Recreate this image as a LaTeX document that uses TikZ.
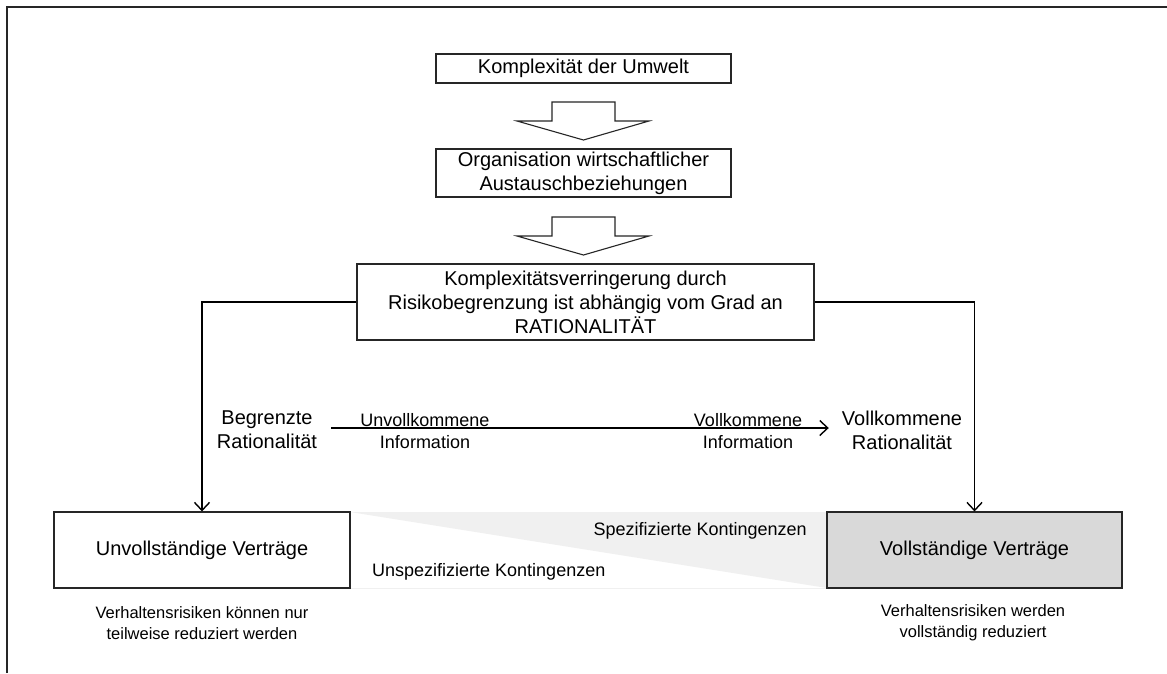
\documentclass[tikz,border=0pt]{standalone}
\usepackage{fontspec}
\setmainfont{Liberation Sans}
\usetikzlibrary{arrows.meta,shadows}
\begin{document}
\begin{tikzpicture}[x=1pt,y=-1pt,
  box/.style={draw=black!85, line width=1.1pt, fill=white, align=center, inner sep=0pt,
    font=\fontsize{20}{24}\selectfont,
    drop shadow={shadow xshift=1.3pt, shadow yshift=-1.3pt, fill=black!55, opacity=1}},
  blockarrow/.style={draw=black!85, line width=1.1pt, fill=white, line join=miter},
  conn/.style={draw=black, line width=1.4pt, -{Straight Barb[length=8pt,width=15pt,line width=1.4pt]}},
  midlabel/.style={align=center, inner sep=0pt, font=\fontsize{20}{24}\selectfont},
  infolabel/.style={align=center, inner sep=0pt, font=\fontsize{18}{22}\selectfont},
  smalllabel/.style={align=center, inner sep=0pt, font=\fontsize{16.5}{21}\selectfont},
  kontlabel/.style={inner sep=0pt, font=\fontsize{18}{22}\selectfont}]
\useasboundingbox (0,0) rectangle (1167,673);
\fill[white] (0,0) rectangle (1167,673);
% frame
\draw[line width=1.6pt, black!85] (7,673) -- (7,7) -- (1167,7);

% boxes
\node[box, minimum width=295pt, minimum height=29pt] (b1) at (583.5,68.5) {Komplexität der Umwelt};
\node[box, minimum width=295pt, minimum height=48pt] (b2) at (583.5,173) {Organisation wirtschaftlicher\\Austauschbeziehungen};
\node[box, minimum width=457pt, minimum height=76pt] (b3) at (585.5,302) {Komplexitätsverringerung durch\\Risikobegrenzung ist abhängig vom Grad an\\RATIONALITÄT};

% wedge between bottom boxes
\coordinate (wtl) at (350,512);
\coordinate (wtr) at (827,512);
\coordinate (wbr) at (827,588);
\coordinate (wbl) at (350,588);
\fill[black!6] (wtl) -- (wtr) -- (wbr) -- cycle;
\draw[black!6, line width=0.8pt] (wbl) -- (wbr);

\node[box, minimum width=296pt, minimum height=76pt] (b4) at (202,550) {Unvollständige Verträge};
\node[box, fill=black!15, minimum width=295pt, minimum height=76pt] (b5) at (974.5,550) {Vollständige Verträge};

% block arrows
\draw[blockarrow] (552,102) -- (615,102) -- (615,121) -- (649,121) -- (583.5,140) -- (517,121) -- (552,121) -- cycle;
\draw[blockarrow] (552,217) -- (615,217) -- (615,236) -- (649,236) -- (583.5,255) -- (517,236) -- (552,236) -- cycle;

% connectors
\draw[conn] (b3.west) -| (b4.north);
\draw[conn] (b3.east) -| (b5.north);

% middle labels
\node[midlabel, inner xsep=14pt] (br) at (267,430) {Begrenzte\\Rationalität};
\node[midlabel, inner xsep=13pt] (vr) at (902,430) {Vollkommene\\Rationalität};
\draw[conn, line width=1.1pt] (br.east |- 0,428) -- (vr.west |- 0,428);
\node[infolabel] (ui) at (425,431) {Unvollkommene\\Information};
\node[infolabel] (vi) at (748,431) {Vollkommene\\Information};

% contingencies
\node[kontlabel, anchor=east] (sk) at (807,531) {Spezifizierte Kontingenzen};
\node[kontlabel, anchor=west] (uk) at (372,572) {Unspezifizierte Kontingenzen};

% bottom notes
\node[smalllabel] (n1) at (202,623) {Verhaltensrisiken können nur\\teilweise reduziert werden};
\node[smalllabel] (n2) at (973,623) {Verhaltensrisiken werden\\vollständig reduziert};
\end{tikzpicture}
\end{document}
